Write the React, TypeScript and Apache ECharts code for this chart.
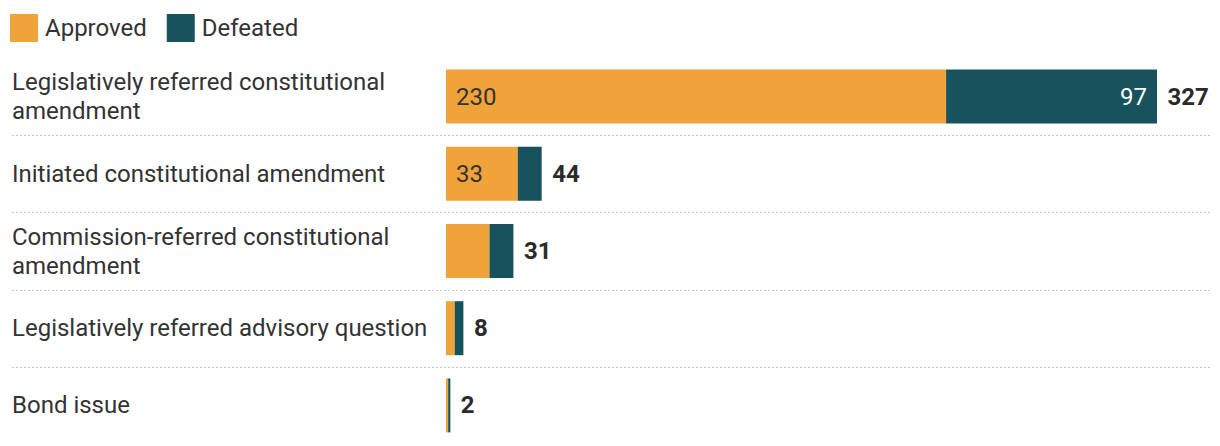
import React, { useEffect, useRef } from "react";
import * as echarts from "echarts";

const categories = [
  "Legislatively referred constitutional amendment",
  "Initiated constitutional amendment",
  "Commission-referred constitutional amendment",
  "Legislatively referred advisory question",
  "Bond issue",
];
const approved = [230, 33, 20, 4, 1];
const defeated = [97, 11, 11, 4, 1];
const totals = [327, 44, 31, 8, 2];

const ORANGE = "#F0A33A";
const TEAL = "#17525D";
const TEXT = "#333333";
const FONT = "Roboto";
const FS = 24;

const W = 1220;
const H = 446;
const GRID_LEFT = 446;
const GRID_RIGHT = 63;
const GRID_TOP = 58;
const GRID_BOTTOM = 2;

export default function App() {
  const ref = useRef<HTMLDivElement>(null);
  useEffect(() => {
    if (!ref.current) return;
    const chart = echarts.init(ref.current, null, { renderer: "svg" });
    const gridH = H - GRID_TOP - GRID_BOTTOM;
    const step = gridH / categories.length;
    const seps = [];
    for (let k = 1; k < categories.length; k++) {
      const y = Math.round(GRID_TOP + k * step) + 0.5;
      seps.push({
        type: "line",
        shape: { x1: 12, y1: y, x2: 1210, y2: y },
        style: { stroke: "#c8c8c8", lineWidth: 1, lineDash: [2, 2] },
        silent: true,
      });
    }
    chart.setOption({
      animation: false,
      textStyle: { fontFamily: FONT },
      legend: {
        data: ["Approved", "Defeated"],
        left: 10,
        top: 14,
        padding: 0,
        itemWidth: 28,
        itemHeight: 28,
        itemGap: 20,
        icon: "rect",
        textStyle: { fontSize: FS, color: TEXT, fontFamily: FONT, padding: [0, 0, 0, 2] },
        selectedMode: false,
      },
      grid: { left: GRID_LEFT, right: GRID_RIGHT, top: GRID_TOP, bottom: GRID_BOTTOM, containLabel: false },
      xAxis: { type: "value", min: 0, max: 327, show: false },
      yAxis: {
        type: "category",
        data: categories,
        inverse: true,
        axisLine: { show: false },
        axisTick: { show: false },
        splitLine: { show: false },
        axisLabel: {
          align: "left",
          margin: GRID_LEFT - 12,
          width: 430,
          overflow: "break",
          fontSize: FS,
          lineHeight: 29,
          padding: [5, 0, 0, 0],
          color: TEXT,
          fontFamily: FONT,
        },
      },
      graphic: seps,
      series: [
        {
          name: "Approved",
          type: "bar",
          stack: "t",
          data: approved,
          barWidth: 54,
          itemStyle: { color: ORANGE },
          label: {
            show: true,
            position: "insideLeft",
            distance: 10,
            fontSize: FS,
            color: TEXT,
            fontFamily: FONT,
            formatter: (p: any) => (p.value >= 25 ? String(p.value) : ""),
          },
        },
        {
          name: "Defeated",
          type: "bar",
          stack: "t",
          data: defeated,
          barWidth: 54,
          itemStyle: { color: TEAL },
          label: {
            show: true,
            position: "insideRight",
            distance: 10,
            fontSize: FS,
            color: "#ffffff",
            fontFamily: FONT,
            formatter: (p: any) => (p.value >= 25 ? String(p.value) : ""),
          },
        },
        {
          name: "Total",
          type: "scatter",
          data: totals.map((t, i) => [t, categories[i]]),
          symbolSize: 1,
          itemStyle: { color: "rgba(0,0,0,0)" },
          silent: true,
          clip: false,
          label: {
            show: true,
            position: "right",
            distance: 10,
            fontSize: FS,
            fontWeight: "bold",
            color: "#2a2a2a",
            opacity: 1,
            textBorderWidth: 0,
            fontFamily: FONT,
            formatter: (p: any) => String(p.value[0]),
          },
        },
      ],
    });
    return () => chart.dispose();
  }, []);
  return (
    <div
      ref={ref}
      style={{ position: "absolute", left: 0, top: 0, width: W, height: H, background: "#fff" }}
    />
  );
}
